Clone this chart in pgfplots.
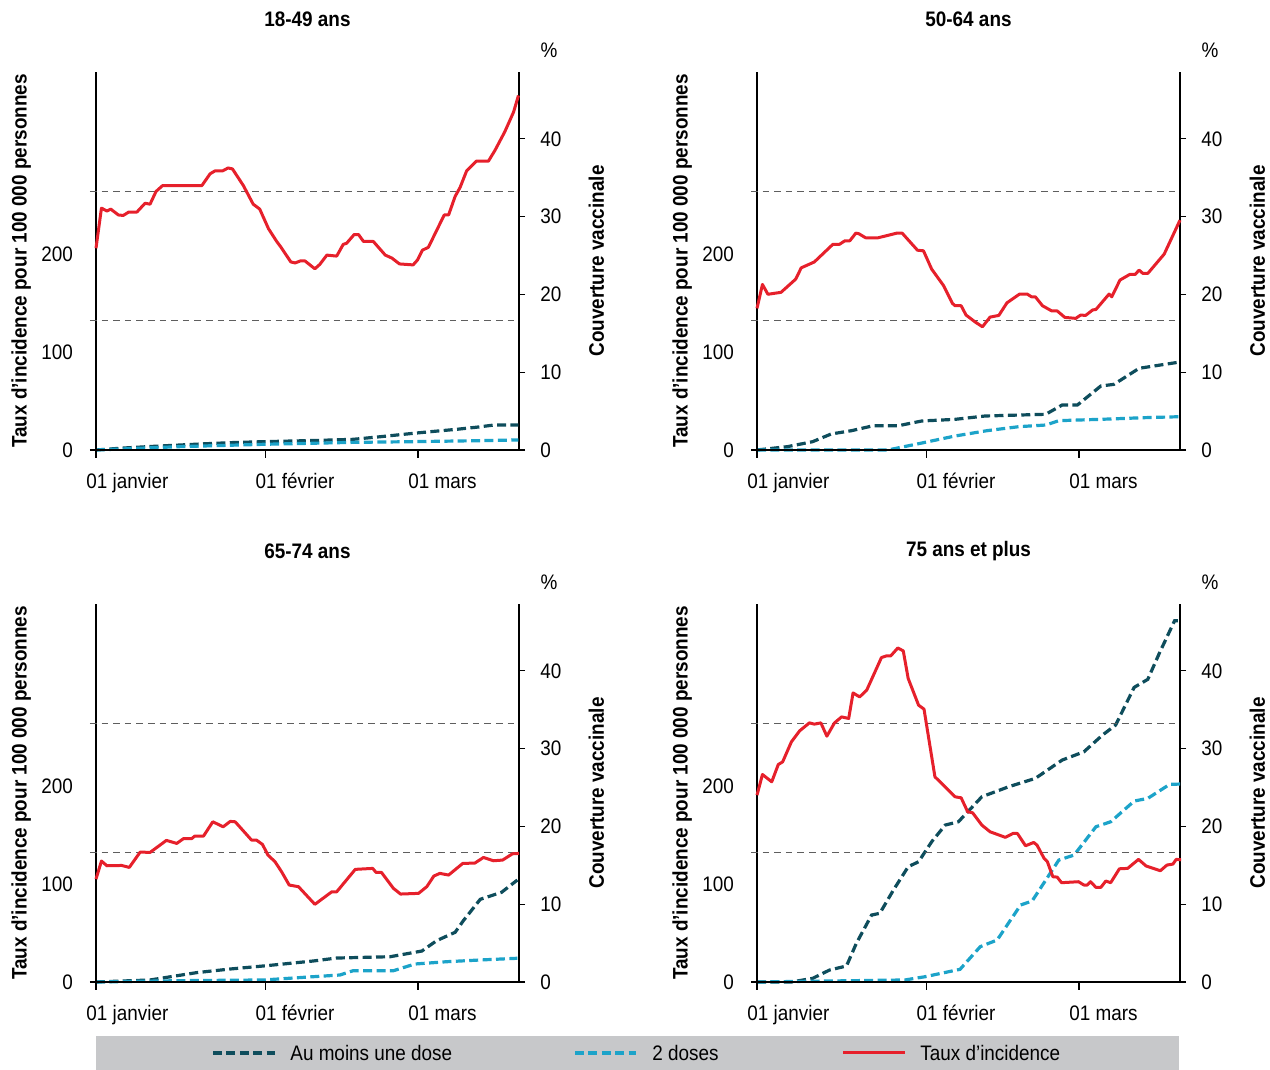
\documentclass[border=0pt]{standalone}
\usepackage{pgfplots}
\pgfplotsset{compat=1.18}
\usepackage{fontspec}
\setmainfont{Liberation Sans}[FakeStretch=0.9]
\definecolor{incred}{HTML}{E6202B}
\definecolor{dose1}{HTML}{0E4D5C}
\definecolor{dose2}{HTML}{1CA3C9}
\definecolor{thr}{HTML}{5E5E5E}
\definecolor{legbg}{HTML}{C7C8CA}
\newcommand\lfont{\fontsize{10.5}{12}\selectfont}
\pgfplotsset{
 base/.style={scale only axis, width=211.5pt, height=189pt, xmin=0, xmax=77.5, clip=false,
   /pgf/number format/assume math mode=true, font=\lfont,
   axis line style={line width=0.6pt, black}, tick style={line width=0.6pt, black},
   tick align=outside, major tick length=4pt},
 inc/.style={base, ymin=0, ymax=386, axis x line*=bottom, axis y line*=left,
   xtick={0,31,59}, xticklabels={01 janvier,01 février,01 mars}, ytick={0,100,200},
   ytick style={draw=none},
   x axis line style={shorten <=-3pt, shorten >=-3pt},
   xticklabel style={anchor=base west, inner sep=0pt, xshift=-5pt, yshift=-15.5pt},
   yticklabel style={anchor=east, inner sep=0pt, xshift=-7.3pt},
   ylabel={Taux d’incidence pour 100 000 personnes},
   every axis y label/.style={at={(axis description cs:-0.1638,0.5)}, anchor=base, rotate=90, font=\lfont\bfseries},
   every axis title/.style={at={(axis description cs:0.5,1)}, anchor=center, yshift=26.5pt, font=\lfont\bfseries}},
 vac/.style={base, ymin=0, ymax=48.6, axis x line=none, axis y line*=right,
   ytick={0,10,20,30,40}, major tick length=3pt,
   yticklabel style={anchor=west, inner sep=0pt, xshift=7.5pt},
   ylabel={Couverture vaccinale},
   every axis y label/.style={at={(axis description cs:1.2009,0.5)}, anchor=base, rotate=90, font=\lfont\bfseries}},
 d1/.style={dose1, line width=1.6pt, dash pattern=on 4.5pt off 2.2pt},
 d2/.style={dose2, line width=1.6pt, dash pattern=on 4.5pt off 2.2pt},
 rl/.style={incred, line width=1.5pt, line join=round},
 th/.style={thr, line width=0.65pt, dash pattern=on 3.3pt off 2.5pt},
}
\begin{document}
\begin{tikzpicture}
\useasboundingbox (0,0) rectangle (635pt,535pt);
% ---------- 18-49
\begin{axis}[vac, at={(48pt,310pt)}, anchor=south west]
\addplot[d1] coordinates {(0,0) (5,0.25) (10,0.45) (15.4,0.64) (20,0.8) (25,0.95) (30.7,1.07) (40,1.22) (47.1,1.37) (52,1.7) (58.1,2.14) (62,2.4) (66.1,2.66) (70,2.95) (72.8,3.2) (77.4,3.2)};
\addplot[d2] coordinates {(0,0) (15.4,0.43) (30.7,0.73) (47.1,0.98) (58.1,1.07) (70.4,1.2) (77.4,1.29)};
\node[font=\lfont] at (rel axis cs:1,1) [xshift=15pt, yshift=11pt] {\%};
\end{axis}
\begin{axis}[inc, at={(48pt,310pt)}, anchor=south west, title={18-49 ans}]
\addplot[th] coordinates {(-1.1,132) (76.6,132)};
\addplot[th] coordinates {(-1.1,264) (76.6,264)};
\addplot[rl] coordinates {(0,206) (1,247) (2,244) (2.7,246) (4.1,240) (5,239.5) (6,243) (7.5,243) (9,252) (9.9,251) (11,264) (12.2,270) (19.4,270) (20.9,282) (21.8,285) (23.2,285) (24.2,288) (25,287) (27,270) (28.8,251) (30,246) (31.6,226) (33.1,213) (33.9,207) (35.7,192) (36.5,191) (37.4,193) (38.3,193) (40.1,185) (41,189.5) (42.3,199) (44.1,198) (45.3,210) (45.9,211) (47.3,220) (48.1,220) (49,213) (50.8,213) (53,199) (54.2,196) (55.6,190) (58.1,189) (58.9,194) (59.8,204) (60.9,207) (63.8,240) (64.6,240) (65.8,259) (66.7,268) (67.9,285) (69.7,295) (71.9,295) (73.1,306) (74.9,325) (76.5,345) (77.4,362)};
\end{axis}
% ---------- 50-64
\begin{axis}[vac, at={(378.5pt,310pt)}, anchor=south west]
\addplot[d1] coordinates {(0,0) (5.6,0.43) (10.2,1.07) (13.6,2.06) (17.3,2.48) (21.3,3.12) (25.9,3.12) (30.2,3.73) (36.3,3.94) (41.8,4.37) (52.9,4.59) (55.9,5.78) (58.7,5.78) (63,8.23) (65.4,8.44) (70,10.5) (73.1,10.84) (77.5,11.31)};
\addplot[d2] coordinates {(0,0) (24,0) (30.5,0.94) (36.3,1.8) (42.1,2.48) (48,3) (52.9,3.21) (55.3,3.77) (64.5,3.98) (70.7,4.15) (77.5,4.28)};
\node[font=\lfont] at (rel axis cs:1,1) [xshift=15pt, yshift=11pt] {\%};
\end{axis}
\begin{axis}[inc, at={(378.5pt,310pt)}, anchor=south west, title={50-64 ans}]
\addplot[th] coordinates {(-1.1,132) (76.6,132)};
\addplot[th] coordinates {(-1.1,264) (76.6,264)};
\addplot[rl] coordinates {(0,144.6) (1,169) (2,159) (4.4,161) (7.1,174.5) (8.1,186) (10.5,192) (13.9,210) (15.1,210) (16.1,213.6) (17,213.6) (18.1,221.4) (18.6,221) (19.9,216.7) (22.2,216.7) (25.6,221.4) (26.6,221.4) (29.4,204) (30.5,203.4) (32,184.7) (34.2,167.7) (35.8,149.7) (36.3,147.3) (37.4,147.3) (38.3,137.8) (40,130.6) (41.3,125.8) (42.7,135.7) (44.3,137.4) (45.8,150.3) (48.1,159.2) (49.5,159.2) (50.3,156.4) (51,156.4) (52.3,147.3) (54,142) (55,142) (56.4,135.4) (58.4,134.4) (59.3,137.8) (60.2,137.4) (61.5,143) (62.1,143.5) (64.5,159.2) (65,156.4) (66.5,173.5) (68.3,179.3) (69.3,179.3) (70,183.7) (70.7,180.3) (71.6,180.3) (74.6,200) (77.5,234.7)};
\end{axis}
% ---------- 65-74
\begin{axis}[vac, at={(48pt,44pt)}, anchor=south west]
\addplot[d1] coordinates {(0,0) (9.9,0.26) (18.4,1.2) (24.6,1.67) (31.3,2.1) (39.8,2.7) (44.1,3.08) (53.9,3.25) (59.7,3.98) (62.4,5.31) (65.8,6.39) (67.3,7.88) (70.4,10.63) (74.3,11.53) (77.2,13.11)};
\addplot[d2] coordinates {(0,0) (15.4,0.17) (30.7,0.26) (39.8,0.68) (44.7,0.9) (47.1,1.45) (54.5,1.45) (58.4,2.31) (64.3,2.61) (70.4,2.83) (77.2,3.05)};
\node[font=\lfont] at (rel axis cs:1,1) [xshift=15pt, yshift=11pt] {\%};
\end{axis}
\begin{axis}[inc, at={(48pt,44pt)}, anchor=south west, title={65-74 ans}]
\addplot[th] coordinates {(-1.1,132) (76.6,132)};
\addplot[th] coordinates {(-1.1,264) (76.6,264)};
\addplot[rl] coordinates {(0,105.1) (1,123.5) (2,118.7) (4.7,119) (6.1,117) (8.1,132.7) (9.9,132.3) (12.9,144.6) (14.8,141.5) (16,146.3) (17.5,146.3) (18.1,149) (19.7,149) (21.4,163.6) (23.3,158.5) (24.6,164) (25.5,163.6) (28.5,144.9) (29.4,144.9) (30.5,140.5) (31.5,129.6) (32.8,122.8) (34,112.6) (35.4,99) (37.1,97.3) (40.1,79.3) (43.2,92.1) (44.1,92.1) (47.5,115) (50.7,116) (51.3,111.9) (52.3,111.9) (54.5,95.6) (55.8,89.8) (59.1,90.5) (60.6,97.3) (61.9,108.2) (63,110.9) (64.6,109.2) (67.2,121.1) (69.4,121.4) (71,127.2) (72.8,123.8) (74.5,124.5) (76.3,130.9) (77.5,131.3)};
\end{axis}
% ---------- 75+
\begin{axis}[vac, at={(378.5pt,44pt)}, anchor=south west]
\addplot[d1] coordinates {(0,0) (6.3,0) (10.2,0.47) (13.3,1.54) (16.4,2.06) (18.2,4.97) (21,8.61) (22.5,8.83) (25,11.83) (27.7,14.82) (29.6,15.46) (32,18.03) (34.5,20.18) (36.9,20.6) (41.2,23.82) (46.1,25.1) (51,26.18) (55.9,28.53) (59.9,29.6) (63.3,31.75) (65.7,33.03) (69.1,37.88) (71.6,38.91) (73.7,42.25) (76.5,46.44) (77.1,46.44)};
\addplot[d2] coordinates {(0,0) (27.1,0.26) (30.8,0.68) (37.2,1.63) (40.9,4.54) (44,5.4) (48.3,9.9) (50.4,10.41) (55.3,15.68) (58.1,16.32) (62.1,19.96) (64.8,20.6) (69.1,23.26) (71.6,23.61) (75.6,25.41) (77.6,25.45)};
\node[font=\lfont] at (rel axis cs:1,1) [xshift=15pt, yshift=11pt] {\%};
\end{axis}
\begin{axis}[inc, at={(378.5pt,44pt)}, anchor=south west, title={75 ans et plus}]
\addplot[th] coordinates {(-1.1,132) (76.6,132)};
\addplot[th] coordinates {(-1.1,264) (76.6,264)};
\addplot[rl] coordinates {(0,190.8) (1,211.9) (2.7,204.4) (3.9,222.1) (4.7,224.8) (6.3,245.2) (7.8,256.4) (9.6,264.6) (10.5,263.3) (11.7,264.6) (12.8,251) (14.2,264.6) (15.5,270.7) (16.8,269.1) (17.6,295.2) (18.8,291.1) (20.1,298) (22.8,331.3) (23.7,333) (24.5,333) (25.8,341.1) (26.8,338.1) (27.7,309.9) (29.6,282.7) (30.6,278.6) (32.6,209.5) (36.3,189.1) (37.4,188.1) (38.6,173.8) (39.5,172.8) (41.2,160.2) (42.7,153.4) (45.5,147.7) (46.9,151.7) (47.7,151.7) (49.2,139.1) (50.7,142.5) (51.3,139.8) (52.6,126.2) (53.2,122.8) (54.2,107.5) (55,107.1) (55.8,101.4) (58.9,102.4) (59.9,99) (60.5,99) (61.1,102.4) (62.1,96.6) (63,96.6) (63.9,103.1) (64.8,101.4) (66.4,115.6) (67.9,116) (69.9,125.2) (71.3,118.4) (73.9,113.6) (75.1,119.4) (76.2,120.4) (76.8,125.2) (77.7,124.8)};
\end{axis}
% ---------- legend
\fill[legbg] (48pt,0pt) rectangle (589.5pt,17pt);
\draw[dose1, line width=1.6pt, dash pattern=on 4.5pt off 2.2pt] (106.5pt,8.5pt) -- (137.5pt,8.5pt);
\node[anchor=base west, inner sep=0pt, font=\lfont] at (145pt,4.75pt) {Au moins une dose};
\draw[dose2, line width=1.6pt, dash pattern=on 4.5pt off 2.2pt] (287.5pt,8.5pt) -- (318pt,8.5pt);
\node[anchor=base west, inner sep=0pt, font=\lfont] at (326pt,4.75pt) {2 doses};
\draw[incred, line width=1.5pt] (421.5pt,8.5pt) -- (452.5pt,8.5pt);
\node[anchor=base west, inner sep=0pt, font=\lfont] at (460pt,4.75pt) {Taux d’incidence};
\end{tikzpicture}
\end{document}
